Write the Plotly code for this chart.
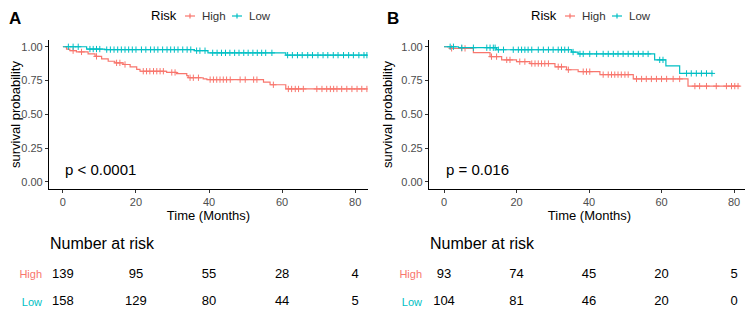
import numpy as np
import plotly.graph_objects as go

# ---------------- data ----------------
groups = ["High", "Low"]
colors = {"High": "#F8766D", "Low": "#00BFC4"}
risk_times = [0, 20, 40, 60, 80]
x_ticks = [0, 20, 40, 60, 80]
y_ticks = [0.0, 0.25, 0.5, 0.75, 1.0]
y_ticklabels = ["0.00", "0.25", "0.50", "0.75", "1.00"]
legend_title = "Risk"

# Panel A
a_high_times = [1.0, 1.9, 3.7, 6.9, 8.8, 10.6, 12.4, 14.2, 16.5, 18.4, 20.2, 21.1,
                28.4, 31.1, 33.9, 34.3, 38.4, 39.4, 54.9, 56.7, 61.0]
a_high_surv = [0.983, 0.971, 0.962, 0.948, 0.929, 0.910, 0.893, 0.881, 0.869, 0.852,
               0.833, 0.819, 0.810, 0.802, 0.786, 0.771, 0.762, 0.757, 0.738, 0.719, 0.688]
a_high_end = 83.2
a_high_cens = [2.8, 5.1, 9.2, 14.7, 15.6, 17.0, 22.0, 22.9, 23.8, 24.8, 25.7, 26.6, 27.5,
               29.8, 30.7, 34.8, 35.7, 37.1, 40.3, 41.2, 42.1, 43.0, 43.9, 44.8, 45.8,
               48.5, 49.9, 52.2, 53.1, 57.6, 61.7, 62.6, 63.6, 64.5, 65.8, 69.5, 70.9,
               72.2, 73.2, 74.1, 75.0, 76.3, 77.7, 79.1, 80.5, 81.8, 83.2]

a_low_times = [6.5, 11.5, 36.0, 39.7, 61.0]
a_low_surv = [0.983, 0.979, 0.971, 0.955, 0.938]
a_low_end = 83.3
a_low_cens = [1.5, 2.8, 4.2, 7.4, 8.3, 9.2, 10.1, 12.0, 13.0, 14.0, 15.0, 16.0, 17.0,
              18.0, 19.0, 20.0, 21.5, 22.7, 24.0, 25.0, 26.0, 27.3, 28.5, 29.5, 30.5,
              31.5, 32.8, 34.0, 35.0, 36.6, 37.5, 38.9, 41.0, 42.2, 43.4, 44.5, 45.7,
              47.0, 48.2, 49.5, 50.7, 52.0, 53.2, 54.4, 55.5, 57.2, 61.5, 62.8, 64.2,
              65.5, 67.0, 68.3, 69.8, 71.2, 72.5, 74.0, 75.3, 76.8, 78.2, 79.5, 81.0,
              82.4, 83.2]

# Panel B
b_high_times = [1.7, 8.1, 12.7, 15.9, 20.0, 23.7, 30.6, 33.8, 37.0, 43.0, 52.2, 67.3]
b_high_surv = [0.988, 0.956, 0.927, 0.903, 0.890, 0.876, 0.852, 0.830, 0.816, 0.794,
               0.762, 0.709]
b_high_end = 81.6
b_high_cens = [2.1, 4.9, 5.8, 13.1, 14.5, 17.3, 18.2, 20.9, 22.3, 24.2, 25.1, 26.0, 26.9,
               27.8, 28.8, 31.5, 32.4, 34.3, 38.4, 39.3, 40.2, 43.9, 45.3, 46.2, 47.1,
               48.0, 48.9, 49.9, 50.8, 53.1, 54.5, 55.8, 57.2, 58.6, 60.0, 61.4, 63.2,
               65.0, 69.2, 70.5, 72.4, 75.1, 77.9, 79.3, 80.2, 81.1]

b_low_times = [4.0, 14.5, 35.2, 37.0, 58.1, 61.2, 65.0]
b_low_surv = [0.993, 0.978, 0.961, 0.947, 0.903, 0.859, 0.803]
b_low_end = 74.2
b_low_cens = [1.7, 2.6, 4.9, 8.1, 11.8, 12.7, 13.6, 14.1, 15.0, 16.4, 19.1, 20.5, 21.4,
              22.3, 23.2, 24.2, 26.0, 27.4, 28.8, 30.1, 31.5, 32.4, 33.3, 34.3, 35.6,
              37.5, 38.4, 40.2, 42.1, 43.9, 45.3, 46.7, 48.0, 49.4, 50.8, 52.2, 53.6,
              54.9, 56.3, 59.5, 60.4, 66.9, 68.2, 69.6, 71.0, 72.4, 73.9]

a_risk_high = [139, 95, 55, 28, 4]
a_risk_low = [158, 129, 80, 44, 5]
b_risk_high = [93, 74, 45, 20, 5]
b_risk_low = [104, 81, 46, 20, 0]

a_pval = "p < 0.0001"
b_pval = "p = 0.016"

# ---------------- helpers ----------------
def surv_at(times, survs, t):
    idx = np.searchsorted(np.array(times), np.array(t), side="right")
    s = np.concatenate([[1.0], survs])
    return s[idx]

# page body has an 8px default margin; figure sized to fit the window
OFF = 8
W, H = 753 - OFF, 312 - OFF
FONT = "Liberation Sans, Arial, sans-serif"


def px(v):
    return (v - OFF) / W


def py(v):
    return (H - (v - OFF)) / H


fig = go.Figure()

panels = [
    dict(name="A", xa="x", ya="y", xt="x3", yt="y3",
         curves={"High": (a_high_times, a_high_surv, a_high_end, a_high_cens),
                 "Low": (a_low_times, a_low_surv, a_low_end, a_low_cens)},
         risk={"High": a_risk_high, "Low": a_risk_low}, p=a_pval),
    dict(name="B", xa="x2", ya="y2", xt="x4", yt="y4",
         curves={"High": (b_high_times, b_high_surv, b_high_end, b_high_cens),
                 "Low": (b_low_times, b_low_surv, b_low_end, b_low_cens)},
         risk={"High": b_risk_high, "Low": b_risk_low}, p=b_pval),
]

for p in panels:
    for g in groups:
        times, survs, end, cens = p["curves"][g]
        xs = [0] + list(times) + [end]
        ys = [1.0] + list(survs) + [survs[-1]]
        fig.add_trace(go.Scatter(x=xs, y=ys, mode="lines", name=g,
                                 line=dict(color=colors[g], width=1.2, shape="hv"),
                                 xaxis=p["xa"], yaxis=p["ya"], showlegend=False, hoverinfo="skip"))
        cy = surv_at(times, survs, cens)
        fig.add_trace(go.Scatter(x=cens, y=cy, mode="markers", name=g,
                                 marker=dict(symbol="cross-thin", size=4.5,
                                             line=dict(color=colors[g], width=1)),
                                 xaxis=p["xa"], yaxis=p["ya"], showlegend=False, hoverinfo="skip"))
        # risk table
        fig.add_trace(go.Scatter(x=risk_times, y=[g] * len(risk_times), mode="text",
                                 text=[str(v) for v in p["risk"][g]],
                                 textfont=dict(size=13, color="black", family=FONT),
                                 xaxis=p["xt"], yaxis=p["yt"], showlegend=False, hoverinfo="skip"))

xdomA = [px(49), px(368)]
xdomB = [px(429), px(750)]
ydom = [py(189), py(40)]
ydomT = [py(312), py(252)]
xrA = [-3.8, 83.5]
xrB = [-4.14, 84.4]
yr = [-0.0518, 1.05]

common_x = dict(showgrid=False, zeroline=False, showline=True, linecolor="black", linewidth=1.1,
                ticks="outside", ticklen=3, tickcolor="#333333", tickwidth=1,
                tickvals=x_ticks, tickfont=dict(size=11, color="#4D4D4D", family=FONT),
                title=dict(text="Time (Months)", font=dict(size=13, color="black", family=FONT), standoff=0))
common_y = dict(showgrid=False, zeroline=False, showline=True, linecolor="black", linewidth=1.1,
                ticks="outside", ticklen=3, tickcolor="#333333", tickwidth=1,
                tickvals=y_ticks, ticktext=y_ticklabels, range=yr, domain=ydom,
                tickfont=dict(size=11, color="#4D4D4D", family=FONT),
                title=dict(text="survival probability", font=dict(size=13, color="black", family=FONT), standoff=5))
table_y = dict(domain=ydomT, showgrid=False, zeroline=False, showline=False, ticks="",
               type="category", categoryorder="array", categoryarray=["Low", "High"],
               tickvals=["High", "Low"],
               ticktext=['<span style="color:%s">High</span>' % colors["High"],
                         '<span style="color:%s">Low</span>' % colors["Low"]],
               ticklabelstandoff=6,
               tickfont=dict(size=11, family=FONT), range=[-0.35, 1.8], fixedrange=True)
table_x = dict(showgrid=False, zeroline=False, showline=False, showticklabels=False, ticks="")

annotations = [
    dict(text="<b>A</b>", x=px(8), y=1.0, xref="paper", yref="paper", xanchor="left", yanchor="top",
         borderpad=0, showarrow=False, font=dict(size=17, color="black", family=FONT)),
    dict(text="<b>B</b>", x=px(386), y=1.0, xref="paper", yref="paper", xanchor="left", yanchor="top",
         borderpad=0, showarrow=False, font=dict(size=17, color="black", family=FONT)),
    dict(text=a_pval, x=0, y=0.095, xref="x", yref="y", xanchor="left", yanchor="middle",
         showarrow=False, font=dict(size=15, color="black", family=FONT)),
    dict(text=b_pval, x=0, y=0.095, xref="x2", yref="y2", xanchor="left", yanchor="middle",
         showarrow=False, font=dict(size=15, color="black", family=FONT)),
    dict(text="Number at risk", x=px(48), y=py(243), xref="paper", yref="paper", xanchor="left",
         yanchor="middle", showarrow=False, font=dict(size=16, color="black", family=FONT)),
    dict(text="Number at risk", x=px(428), y=py(243), xref="paper", yref="paper", xanchor="left",
         yanchor="middle", showarrow=False, font=dict(size=16, color="black", family=FONT)),
]
shapes = []

# legend (title + keys) for each panel, placed like the ggplot top legend
legend_pos = [
    dict(title=150, keys={"High": 190, "Low": 237}),
    dict(title=530, keys={"High": 570, "Low": 617}),
]
ly = 16
for lp in legend_pos:
    annotations.append(dict(text=legend_title, x=px(lp["title"]), y=py(ly), xref="paper", yref="paper",
                            xanchor="left", yanchor="middle", showarrow=False, borderpad=0,
                            font=dict(size=13, color="black", family=FONT)))
    for g in groups:
        kx = lp["keys"][g]
        shapes.append(dict(type="line", xref="paper", yref="paper", x0=px(kx - 5), x1=px(kx + 5),
                           y0=py(ly), y1=py(ly), line=dict(color=colors[g], width=1.2)))
        shapes.append(dict(type="line", xref="paper", yref="paper", x0=px(kx), x1=px(kx),
                           y0=py(ly - 2.5), y1=py(ly + 2.5), line=dict(color=colors[g], width=1.2)))
        annotations.append(dict(text=g, x=px(kx + 11), y=py(ly), xref="paper", yref="paper",
                                xanchor="left", yanchor="middle", showarrow=False, borderpad=0,
                                font=dict(size=11.5, color="#333333", family=FONT)))

fig.update_layout(
    width=W, height=H, autosize=False,
    margin=dict(l=0, r=0, t=0, b=0),
    paper_bgcolor="white", plot_bgcolor="white",
    font=dict(family=FONT),
    showlegend=False,
    xaxis=dict(common_x, domain=xdomA, range=xrA, anchor="y"),
    yaxis=dict(common_y, anchor="x"),
    xaxis2=dict(common_x, domain=xdomB, range=xrB, anchor="y2"),
    yaxis2=dict(common_y, anchor="x2"),
    xaxis3=dict(table_x, domain=xdomA, range=xrA, anchor="y3"),
    yaxis3=dict(table_y, anchor="x3"),
    xaxis4=dict(table_x, domain=xdomB, range=xrB, anchor="y4"),
    yaxis4=dict(table_y, anchor="x4"),
    annotations=annotations,
    shapes=shapes,
)

fig.write_html("out.html")
